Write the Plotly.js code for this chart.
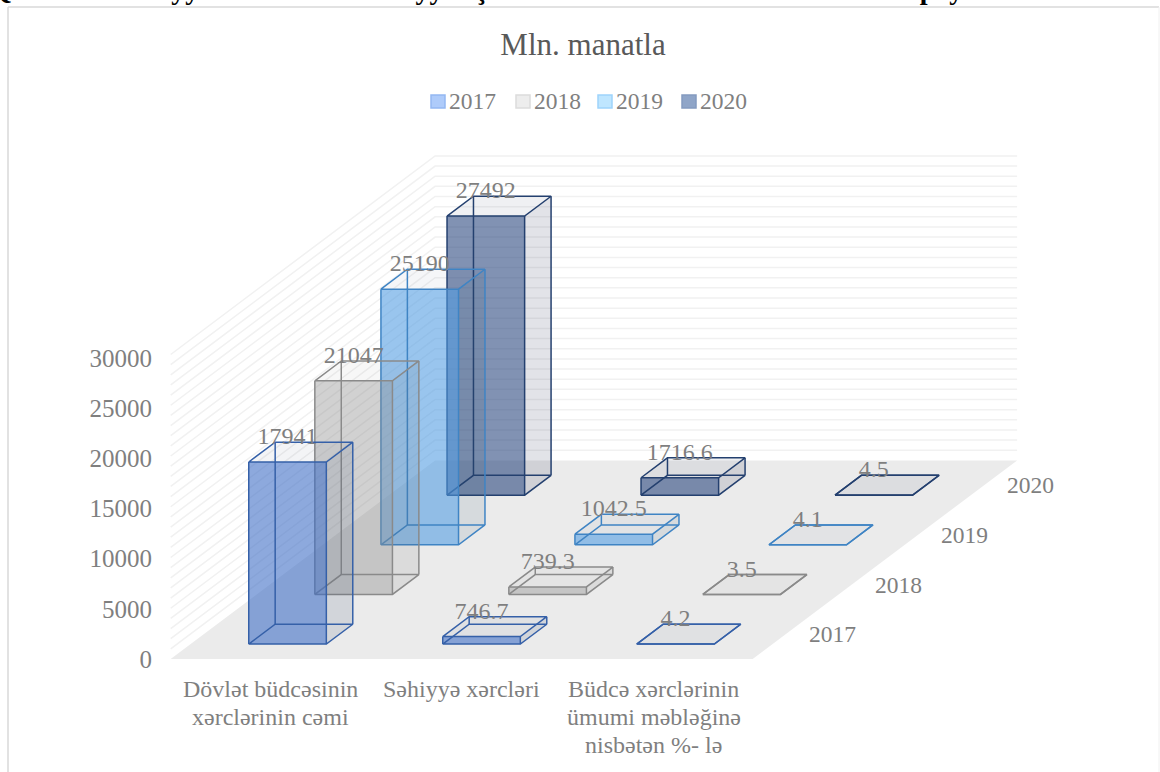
<!DOCTYPE html>
<html>
<head>
<meta charset="utf-8">
<script src="https://cdn.plot.ly/plotly-3.0.1.min.js"></script>
<style>html,body{margin:0;padding:0;background:#fff;overflow:hidden}#chart{width:1160px;height:772px}</style>
</head>
<body>
<div id="chart"></div>
<script>
const categories = [['Dövlət büdcəsinin', 'xərclərinin cəmi'], ['Səhiyyə xərcləri'], ['Büdcə xərclərinin', 'ümumi məbləğinə', 'nisbətən %- lə']];
const categoryCentres = [0.512, 1.497, 2.49];
const years = ['2017', '2018', '2019', '2020'];
const values2017 = [17941, 746.7, 4.2];
const values2018 = [21047, 739.3, 3.5];
const values2019 = [25190, 1042.5, 4.1];
const values2020 = [27492, 1716.6, 4.5];
const seriesValues = [values2017, values2018, values2019, values2020];
const labels2017 = ['17941', '746.7', '4.2'];
const labels2018 = ['21047', '739.3', '3.5'];
const labels2019 = ['25190', '1042.5', '4.1'];
const labels2020 = ['27492', '1716.6', '4.5'];
const seriesLabels = [labels2017, labels2018, labels2019, labels2020];
const yTicks = [0, 5000, 10000, 15000, 20000, 25000, 30000];
const gridValues = Array.from({length: 30}, (_, i) => (i + 1) * 1000);
const headingText = 'Qrafik\u00a0\u00a06.\u00a0\u00a0Səhiyyə sektorunun maliyyələşməsində büdcə xərclərinin həcmi və payı';

const frontFill = ['rgba(58,106,196,0.58)', 'rgba(140,140,140,0.40)', 'rgba(80,155,225,0.58)', 'rgba(30,60,120,0.56)'];
const sideFill = ['rgba(50,70,110,0.13)', 'rgba(90,90,90,0.11)', 'rgba(50,80,110,0.11)', 'rgba(30,40,80,0.13)'];
const topFill = ['rgba(50,70,110,0.06)', 'rgba(90,90,90,0.05)', 'rgba(50,80,110,0.05)', 'rgba(30,40,80,0.07)'];
const edgeColor = ['#3560a8', '#8a8a8a', '#3f84c4', '#24406f'];
const swatchFill = ['#aecbfa', '#ededed', '#bfe6ff', '#8fa5c8'];
const swatchLine = ['#94b8f2', '#dcdcdc', '#9fd4fb', '#849bc0'];

const FONT = 'Liberation Serif';
const GREY = '#7f7f7f';
const M = {l: 153, r: 0, t: 0, b: 113};
const plotW = 1160 - M.l - M.r, plotH = 772 - M.t - M.b;
const catPx = 194, floorLeft = 170.7;
const depthPxX = 66.1, depthPxY = 49.65, valPx = 0.01015, wallTickPx = 0.01003;

function px(cat, depth) { return cat + depth * depthPxX / catPx; }
function py(depth, val) { return val + depth * depthPxY / valPx; }
function paperX(p) { return (p - M.l) / plotW; }
function paperY(p) { return 1 - (p - M.t) / plotH; }

function polyTrace(polys, fill) {
  const x = [], y = [];
  polys.forEach(poly => {
    poly.forEach(p => { x.push(px(p[0], p[1])); y.push(py(p[1], p[2])); });
    x.push(px(poly[0][0], poly[0][1])); y.push(py(poly[0][1], poly[0][2]));
    x.push(null); y.push(null);
  });
  return {type: 'scatter', mode: 'none', x, y, fill: 'toself', fillcolor: fill, hoverinfo: 'skip', showlegend: false};
}
function lineTrace(lines, color, width) {
  const x = [], y = [];
  lines.forEach(l => {
    l.forEach(p => { x.push(px(p[0], p[1])); y.push(py(p[1], p[2])); });
    x.push(null); y.push(null);
  });
  return {type: 'scatter', mode: 'lines', x, y, line: {color, width}, hoverinfo: 'skip', showlegend: false};
}

const traces = [];
// carrier of the value-axis tick labels
traces.push({type: 'scatter', mode: 'none', x: [0], y: [0], yaxis: 'y2', hoverinfo: 'skip', showlegend: false});
// floor
traces.push(polyTrace([[[0, 0, 0], [3, 0, 0], [3, 4, 0], [0, 4, 0]]], '#ebebeb'));
// walls
traces.push(lineTrace(gridValues.map(v => [[0, 0, v], [0, 4, v], [3, 4, v]]), '#f1f1f1', 1.5));

// bars, back to front
for (let s = years.length - 1; s >= 0; s--) {
  const d0 = s + 0.3, d1 = s + 0.7;
  const tops = [], sides = [], fronts = [], edges = [];
  seriesValues[s].forEach((v, i) => {
    const c0 = i + 0.3, c1 = i + 0.7;
    sides.push([[c1, d0, 0], [c1, d1, 0], [c1, d1, v], [c1, d0, v]]);
    tops.push([[c0, d0, v], [c1, d0, v], [c1, d1, v], [c0, d1, v]]);
    fronts.push([[c0, d0, 0], [c1, d0, 0], [c1, d0, v], [c0, d0, v]]);
    edges.push([[c0, d0, 0], [c1, d0, 0], [c1, d1, 0], [c0, d1, 0], [c0, d0, 0]]);
    edges.push([[c0, d0, v], [c1, d0, v], [c1, d1, v], [c0, d1, v], [c0, d0, v]]);
    [[c0, d0], [c1, d0], [c1, d1], [c0, d1]].forEach(q => edges.push([[q[0], q[1], 0], [q[0], q[1], v]]));
  });
  traces.push(polyTrace(sides, sideFill[s]));
  traces.push(polyTrace(tops, topFill[s]));
  traces.push(polyTrace(fronts, frontFill[s]));
  traces.push(lineTrace(edges, edgeColor[s], 1.5));
}

// data labels
const lx = [], ly = [], lt = [];
seriesValues.forEach((vals, s) => vals.forEach((v, i) => {
  lx.push(px(i + 0.5, s + 0.3));
  ly.push(py(s + 0.7, v) + 4 / valPx);
  lt.push(seriesLabels[s][i]);
}));
traces.push({type: 'scatter', mode: 'text', x: lx, y: ly, text: lt, textposition: 'middle center',
  textfont: {family: FONT, size: 24, color: GREY}, hoverinfo: 'skip', showlegend: false});

const annotations = [];
// cropped heading above the chart frame
annotations.push({xref: 'paper', yref: 'paper', x: paperX(-12), y: paperY(7), text: headingText, showarrow: false,
  xanchor: 'left', yanchor: 'bottom', font: {family: FONT, size: 28, color: '#000000', weight: 700}});
// category labels
categories.forEach((lines, i) => lines.forEach((line, k) => annotations.push({
  xref: 'x', yref: 'paper', x: categoryCentres[i], y: paperY(689 + 28 * k), text: line, showarrow: false,
  xanchor: 'center', yanchor: 'middle', font: {family: FONT, size: 24, color: GREY}
})));
// depth labels
years.forEach((yr, s) => annotations.push({
  x: px(3, s + 0.5), y: py(s + 0.5, 0), xref: 'x', yref: 'y', text: yr, showarrow: false,
  xanchor: 'left', yanchor: 'middle', xshift: 21, font: {family: FONT, size: 23.5, color: GREY}
}));
// legend
const swatchX = [430, 515, 597, 681];
const shapes = [];
years.forEach((yr, s) => {
  shapes.push({type: 'rect', xref: 'paper', yref: 'paper',
    x0: paperX(swatchX[s] + 1), x1: paperX(swatchX[s] + 15), y0: paperY(95), y1: paperY(108),
    fillcolor: swatchFill[s], line: {color: swatchLine[s], width: 1.5}});
  annotations.push({xref: 'paper', yref: 'paper', x: paperX(swatchX[s] + 17), y: paperY(101), text: yr,
    showarrow: false, xanchor: 'left', yanchor: 'middle', font: {family: FONT, size: 23.5, color: GREY}});
});
// chart frame
shapes.push({type: 'line', xref: 'paper', yref: 'paper', x0: paperX(8), x1: paperX(8), y0: paperY(7), y1: paperY(772), line: {color: '#d9d9d9', width: 1.5}});
shapes.push({type: 'line', xref: 'paper', yref: 'paper', x0: paperX(8), x1: paperX(1159), y0: paperY(7), y1: paperY(7), line: {color: '#d9d9d9', width: 1.5}});
shapes.push({type: 'line', xref: 'paper', yref: 'paper', x0: paperX(1159), x1: paperX(1159), y0: paperY(7), y1: paperY(772), line: {color: '#f0f0f0', width: 1}});

const layout = {
  width: 1160, height: 772, margin: M, paper_bgcolor: '#ffffff', plot_bgcolor: 'rgba(0,0,0,0)', showlegend: false,
  font: {family: FONT, color: GREY},
  title: {text: 'Mln. manatla', x: 583 / 1160, xref: 'container', xanchor: 'center', y: 1 - 44.5 / 772, yref: 'container', yanchor: 'middle',
    font: {family: FONT, size: 31, color: '#595959'}},
  xaxis: {range: [(M.l - floorLeft) / catPx, (1160 - floorLeft) / catPx], showgrid: false, zeroline: false, showline: false, ticks: '', showticklabels: false},
  yaxis: {range: [0, plotH / valPx], showgrid: false, zeroline: false, showline: false, ticks: '', showticklabels: false},
  yaxis2: {overlaying: 'y', side: 'left', anchor: 'x', range: [0, plotH / wallTickPx], showgrid: false, zeroline: false, showline: false, ticks: '',
    tickmode: 'array', tickvals: yTicks, ticktext: yTicks.map(String), tickfont: {family: FONT, size: 25, color: GREY}},
  shapes, annotations, hovermode: false
};
Plotly.newPlot('chart', traces, layout, {displayModeBar: false, staticPlot: true});
</script>
</body>
</html>
